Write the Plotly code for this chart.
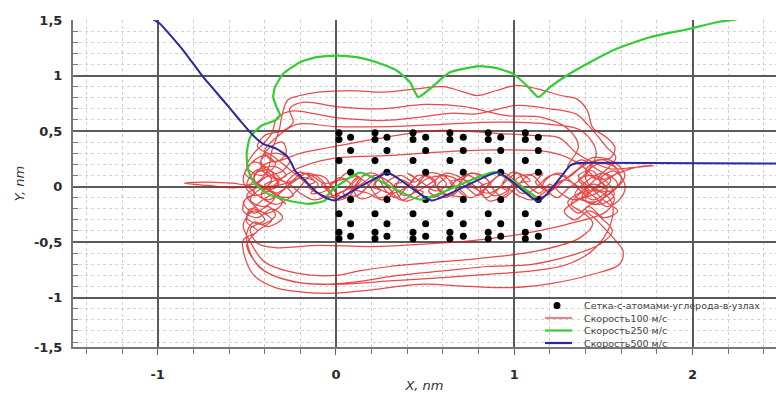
import plotly.graph_objects as go

# ---------------- data ----------------
# carbon lattice (two sub-columns)
lat_ax = [0.017, 0.219, 0.432, 0.639, 0.854, 1.062]
lat_ay = [0.484, 0.423, 0.234, -0.246, -0.412, -0.471]
lat_bx = [0.082, 0.286, 0.503, 0.714, 0.924, 1.135]
lat_by = [0.444, 0.324, 0.129, -0.117, -0.336, -0.448]

# trajectory, 100 m/s
red_x = [
    -0.30, -0.38, -0.46, -0.42, -0.33, -0.36, -0.46, -0.51, -0.44, -0.34,
    -0.40, -0.48, -0.42, -0.30, -0.18, -0.10, -0.14, -0.06, 0.02, 0.08,
    0.04, 0.12, 0.20, 0.26, 0.22, 0.30, 0.38, 0.44, 0.40, 0.48,
    0.56, 0.62, 0.58, 0.66, 0.74, 0.80, 0.86, 0.92, 0.98, 1.04,
    1.12, 1.18, 1.26, 1.32, 1.40, 1.48, 1.44, 1.36, 1.42, 1.54,
    1.60, 1.56, 1.46, 1.40, 1.50, 1.58, 1.50, 1.42, 1.36, 1.30,
    1.38, 1.48, 1.57, 1.52, 1.46, 1.41, 1.35, 1.20, 1.01, 0.79,
    0.64, 0.45, 0.27, 0.00, -0.25, -0.33, -0.36, -0.41, -0.46, -0.50,
    -0.42, -0.34, -0.40, -0.48, -0.52, -0.46, -0.36, -0.30, -0.38, -0.48,
    -0.50, -0.44, -0.52, -0.51, -0.46, -0.34, -0.19, 0.00, 0.20, 0.47,
    0.75, 0.99, 1.22, 1.44, 1.59, 1.61, 1.57, 1.52, 1.46, 1.40,
    1.50, 1.58, 1.50, 1.40, 1.34, 1.44, 1.54, 1.62, 1.56, 1.44,
    1.36, 1.28, 1.20, 1.12, 1.16, 1.08, 1.00, 0.94, 0.88, 0.84,
    0.76, 0.70, 0.64, 0.58, 0.54, 0.46, 0.40, 0.34, 0.28, 0.24,
    0.16, 0.10, 0.04, -0.02, -0.06, -0.14, -0.20, -0.26, -0.34, -0.42,
    -0.36, -0.28, -0.34, -0.44, -0.48, -0.58, -0.72, -0.85, -0.72, -0.56,
    -0.44, -0.38, -0.36, -0.32, -0.30, -0.27, -0.20, -0.10, 0.08, 0.27,
    0.45, 0.60, 0.70, 0.79, 0.90, 1.01, 1.13, 1.26, 1.35, 1.41,
    1.44, 1.52, 1.565, 1.54, 1.46, 1.40, 1.48, 1.58, 1.70, 1.78,
    1.66, 1.54, 1.44, 1.35, 1.25, 1.10, 0.90, 0.58, 0.30, -0.03,
    -0.20, -0.30, -0.40, -0.46, -0.38, -0.30, -0.22, -0.03, 0.30, 0.58,
    0.90, 1.20, 1.35, 1.44, 1.52, 1.46, 1.38, 1.44, 1.56, 1.52,
    1.44, 1.37, 1.22, 1.03, 0.75, 0.47, 0.20, -0.10, -0.34, -0.44,
    -0.48, -0.40, -0.46, -0.52, -0.48, -0.40, -0.22, 0.00, 0.13, 0.30,
    0.50, 0.85, 1.13, 1.37, 1.44, 1.39, 1.32, 1.40, 1.50, 1.55,
    1.54, 1.45, 1.30, 1.10, 0.85, 0.60, 0.30, 0.00, -0.22, -0.38,
    -0.47, -0.50, -0.44, -0.36, -0.44, -0.50, -0.42, -0.34, -0.24, -0.16,
    -0.08, -0.02, 0.06, 0.12, 0.18, 0.24, 0.32, 0.36, 0.42, 0.50,
    0.60, 0.68, 0.74, 0.82, 0.88, 0.96, 1.02, 1.10, 1.16, 1.24,
    1.30, 1.38, 1.46, 1.38, 1.20, 0.90, 0.60, 0.30, 0.00, -0.22,
    -0.32, -0.40, -0.34, -0.28, -0.30, -0.38, -0.42, -0.36, -0.26,
    -0.20, -0.12, -0.04, -0.08, 0.00, 0.06, 0.14, 0.10, 0.18, 0.26,
    0.32, 0.28, 0.36, 0.44, 0.50, 0.56, 0.52, 0.60, 0.68, 0.64,
    0.72, 0.78, 0.84, 0.90, 0.96, 1.02, 1.06, 1.14, 1.20, 1.26,
    1.34, 1.42, 1.36, 1.44, 1.52, 1.56, 1.48, 1.40, 1.46, 1.58,
    1.50, 1.40, 1.32, 1.24, 1.18, 1.10, 1.06, 1.00, 0.94, 0.88,
    0.82, 0.76, 0.70, 0.66, 0.60, 0.52, 0.46, 0.42, 0.36, 0.30,
    0.24, 0.18, 0.12, 0.08, 0.00, -0.04, -0.10, -0.18, -0.24, -0.30,
    -0.38, -0.46, -0.40, -0.30, -0.26, -0.34, -0.42, -0.40, -0.32, -0.40,
    -0.50, -0.52, -0.44, -0.36, -0.30, -0.38, -0.46, -0.50, -0.48, -0.42,
    -0.28, -0.10, 0.10, 0.35, 0.60, 0.85, 1.10, 1.32, 1.48, 1.55,
    1.50, 1.42, 1.34, 1.28, 1.36, 1.46, 1.54, 1.46, 1.38, 1.30,
    1.36, 1.30, 1.16, 0.95, 0.72, 0.50, 0.25, 0.00, -0.18, -0.26,
    -0.24, -0.30, -0.40, -0.44, -0.36, -0.28, -0.16, -0.06, 0.04, 0.14,
    0.22, 0.30, 0.38, 0.46, 0.54, 0.62, 0.70, 0.78, 0.86, 0.94,
    1.02, 1.10, 1.18, 1.28, 1.36, 1.44, 1.52, 1.60, 1.62,
    1.56, 1.48, 1.52, 1.44, 1.36, 1.30, 1.22, 1.16, 1.20, 1.12,
    1.03, 1.09, 0.99, 0.93, 0.97, 0.86, 0.81, 0.86, 0.75, 0.69,
    0.73, 0.62, 0.57, 0.62, 0.51, 0.45, 0.49, 0.38, 0.33, 0.37,
    0.27, 0.21, 0.25, 0.14, 0.09, 0.13, 0.03, -0.03, 0.01, -0.09,
    -0.16, -0.12, -0.20, -0.28, -0.24, -0.32, -0.40, -0.36, -0.44, -0.50,
    -0.46, -0.52, -0.46, -0.38, -0.34, -0.42, -0.50, -0.44, -0.36, -0.28,
]
red_y = [
    0.05, 0.15, 0.10, -0.02, 0.00, 0.13, 0.22, 0.12, 0.03, -0.08,
    -0.18, -0.12, -0.02, 0.02, 0.08, 0.02, -0.06, -0.04, 0.08, 0.02,
    -0.06, -0.08, 0.04, 0.10, 0.02, -0.06, -0.02, 0.08, 0.12, 0.04,
    -0.04, 0.02, 0.10, 0.08, -0.02, -0.08, 0.02, 0.10, 0.04, -0.06,
    -0.02, 0.08, 0.12, 0.04, -0.06, 0.02, 0.14, 0.10, 0.00, -0.04,
    0.06, 0.18, 0.20, 0.08, -0.12, -0.22, -0.28, -0.18, -0.24, -0.14,
    -0.04, 0.10, 0.26, 0.35, 0.47, 0.56, 0.65, 0.70, 0.73, 0.655,
    0.66, 0.62, 0.595, 0.62, 0.68, 0.62, 0.48, 0.38, 0.30, 0.18,
    0.10, 0.20, 0.28, 0.20, 0.05, -0.08, -0.04, -0.14, -0.24, -0.20,
    -0.32, -0.40, -0.48, -0.64, -0.80, -0.91, -0.95, -0.96, -0.93, -0.88,
    -0.90, -0.91, -0.87, -0.79, -0.70, -0.58, -0.49, -0.40, -0.30, -0.20,
    -0.10, 0.02, 0.12, 0.04, -0.08, -0.14, -0.06, 0.10, 0.22, 0.26,
    0.16, 0.06, -0.04, 0.04, 0.12, 0.10, -0.02, -0.10, -0.02, 0.08,
    0.12, 0.04, -0.08, -0.04, 0.06, 0.10, 0.00, -0.10, -0.04, 0.06,
    0.10, 0.00, -0.10, -0.02, 0.08, 0.10, 0.00, -0.10, -0.16, -0.08,
    0.04, 0.10, 0.18, 0.14, 0.02, 0.03, 0.04, 0.03, 0.01, -0.01,
    0.04, 0.16, 0.32, 0.50, 0.66, 0.78, 0.82, 0.85, 0.865, 0.85,
    0.88, 0.90, 0.86, 0.82, 0.865, 0.91, 0.88, 0.82, 0.79, 0.685,
    0.53, 0.44, 0.35, 0.26, 0.23, 0.14, 0.06, 0.12, 0.18, 0.19,
    0.17, 0.16, 0.22, 0.30, 0.44, 0.46, 0.48, 0.505, 0.45, 0.354,
    0.30, 0.24, 0.20, 0.06, -0.02, 0.08, 0.16, 0.25, 0.28, 0.31,
    0.33, 0.31, 0.22, 0.10, -0.02, -0.16, -0.10, 0.02, -0.10, -0.22,
    -0.28, -0.31, -0.37, -0.43, -0.49, -0.52, -0.54, -0.53, -0.55, -0.51,
    -0.38, -0.30, -0.22, -0.34, -0.50, -0.68, -0.78, -0.80, -0.76, -0.72,
    -0.69, -0.64, -0.58, -0.46, -0.33, -0.24, -0.16, -0.04, -0.06, -0.16,
    -0.34, -0.56, -0.70, -0.76, -0.79, -0.82, -0.85, -0.88, -0.86, -0.78,
    -0.64, -0.52, -0.40, -0.30, -0.20, -0.08, 0.00, -0.06, 0.04, 0.12,
    0.06, -0.08, -0.02, 0.08, 0.02, -0.10, -0.04, 0.06, 0.02, -0.10,
    -0.06, 0.06, 0.10, 0.02, -0.08, -0.04, 0.08, 0.10, 0.00, -0.10,
    -0.02, 0.08, 0.30, 0.50, 0.56, 0.58, 0.56, 0.54, 0.54, 0.56,
    0.46, 0.32, 0.22, 0.30, 0.40, 0.34, 0.22, 0.10, 0.02,
    -0.06, -0.12, -0.06, 0.02, 0.04, 0.12, 0.06, -0.02, -0.06, -0.12,
    -0.06, 0.02, 0.10, 0.04, 0.10, 0.04, -0.04, -0.10, -0.04, 0.04,
    0.06, 0.00, -0.10, -0.04, 0.06, 0.12, 0.04, -0.06, 0.02, -0.06,
    -0.12, -0.04, 0.06, 0.10, 0.04, -0.08, -0.16, -0.12, 0.00, 0.14,
    0.24, 0.20, 0.10, 0.02, -0.08, -0.10, -0.02, 0.06, 0.12, 0.06,
    -0.04, -0.10, -0.06, 0.02, 0.10, 0.12, 0.02, -0.08, -0.12, -0.02,
    0.10, 0.12, 0.04, -0.08, -0.12, -0.02, 0.06, 0.12, 0.06, -0.04,
    -0.12, -0.04, 0.08, 0.14, 0.24, 0.30, 0.24, 0.12, 0.04, -0.06,
    -0.10, -0.22, -0.28, -0.20, -0.28, -0.36, -0.32, -0.42, -0.60, -0.74,
    -0.84, -0.88, -0.86, -0.80, -0.76, -0.72, -0.70, -0.62, -0.52, -0.40,
    -0.30, -0.22, -0.30, -0.22, -0.12, -0.06, 0.06, 0.16, 0.24, 0.18,
    0.36, 0.52, 0.62, 0.64, 0.72, 0.74, 0.70, 0.72, 0.76, 0.70,
    0.58, 0.50, 0.46, 0.36, 0.28, 0.18, 0.02, -0.10, -0.04, 0.02,
    0.10, 0.04, -0.08, -0.04, 0.04, 0.12, 0.08, -0.02, -0.06, 0.00,
    -0.08, -0.12, -0.04, 0.06, 0.00, -0.08, -0.18, -0.10, 0.02,
    0.14, 0.06, -0.03, -0.12, -0.02, 0.07, 0.11, 0.01, -0.06, -0.09,
    0.03, 0.05, 0.13, -0.01, -0.04, -0.13, 0.00, 0.04, 0.12, -0.01,
    -0.08, -0.07, 0.01, 0.09, 0.07, -0.02, -0.05, -0.13, 0.02, 0.04,
    0.13, -0.01, -0.03, -0.11, 0.01, 0.09, 0.06, 0.03, -0.09, -0.07,
    0.01, 0.04, 0.13, 0.02, -0.08, -0.09, 0.01, 0.06, 0.15, 0.02,
    -0.06, -0.14, -0.24, -0.18, -0.26, -0.34, -0.28, -0.16, -0.08, -0.16,
]

# trajectory, 250 m/s
green_x = [2.247, 2.135, 1.985, 1.761, 1.574, 1.425, 1.294, 1.200, 1.135, 1.070,
           0.994, 0.901, 0.808, 0.714, 0.639, 0.602, 0.527, 0.462, 0.415, 0.340,
           0.228, 0.116, 0.004, -0.108, -0.202, -0.296, -0.342, -0.352, -0.333, -0.314,
           -0.342, -0.417, -0.482, -0.501, -0.492, -0.454, -0.380, -0.268, -0.155, -0.062,
           -0.034, 0.135, 0.471, 0.892, 1.126]
green_y = [1.505, 1.480, 1.421, 1.345, 1.241, 1.120, 1.000, 0.895, 0.805, 0.910,
           1.015, 1.066, 1.084, 1.060, 1.030, 0.985, 0.880, 0.805, 0.940, 1.045,
           1.120, 1.165, 1.180, 1.165, 1.120, 1.015, 0.895, 0.805, 0.714, 0.640,
           0.595, 0.550, 0.444, 0.295, 0.144, 0.024, -0.066, -0.126, -0.156, -0.126,
           -0.051, 0.126, -0.117, 0.129, -0.099]

# trajectory, 500 m/s
blue_x = [-1.05, -0.987, -0.856, -0.744, -0.632, -0.538, -0.464, -0.408, -0.333, -0.277,
          -0.248, -0.230, -0.174, -0.108, -0.043, -0.006, 0.292, 0.538, 0.909, 1.133,
          1.200, 1.275, 1.312, 1.350, 1.425, 2.55]
blue_y = [1.53, 1.466, 1.225, 0.985, 0.775, 0.595, 0.459, 0.385, 0.340, 0.279,
          0.205, 0.144, 0.054, -0.051, -0.111, -0.126, 0.122, -0.126, 0.129, -0.135,
          -0.036, 0.114, 0.189, 0.210, 0.214, 0.207]

x_ticks = [-1, 0, 1, 2]
y_tickvals = [-1.445, -1, -0.5, 0, 0.5, 1, 1.5]
y_ticktext = ["-1,5", "-1", "-0,5", "0", "0,5", "1", "1,5"]

legend_names = ["Сетка-с-атомами-углерода-в-узлах", "Скорость100 м/с",
                "Скорость250 м/с", "Скорость500 м/с"]

# ---------------- figure ----------------
W, H = 776, 400
ML, MR, MT, MB = 73, 0, 20, 53
PW, PH = W - ML - MR, H - MT - MB

RED = "rgba(225,22,22,0.78)"
GREEN = "#33cc33"
BLUE = "#2a2a9c"

fig = go.Figure()

lat_x = [x for x in lat_ax for _ in lat_ay] + [x for x in lat_bx for _ in lat_by]
lat_y = [y for _ in lat_ax for y in lat_ay] + [y for _ in lat_bx for y in lat_by]

fig.add_trace(go.Scatter(x=red_x, y=red_y, mode="lines", name=legend_names[1],
                         line=dict(color=RED, width=1.25, shape="spline", smoothing=1.0),
                         showlegend=False))
fig.add_trace(go.Scatter(x=lat_x, y=lat_y, mode="markers", name=legend_names[0],
                         marker=dict(color="black", size=7), showlegend=False))
fig.add_trace(go.Scatter(x=green_x, y=green_y, mode="lines", name=legend_names[2],
                         line=dict(color=GREEN, width=2.2, shape="spline", smoothing=0.5),
                         showlegend=False))
fig.add_trace(go.Scatter(x=blue_x, y=blue_y, mode="lines", name=legend_names[3],
                         line=dict(color=BLUE, width=2, shape="spline", smoothing=0.4),
                         showlegend=False))

FONT = "DejaVu Sans, Verdana, sans-serif"
TICKFONT = dict(family=FONT, size=13, color="#2a2a2a", weight="bold")

fig.update_layout(
    width=W, height=H,
    margin=dict(l=ML, r=MR, t=MT, b=MB),
    paper_bgcolor="white", plot_bgcolor="white",
    separators=", ",
    font=dict(family=FONT, color="#333", size=12),
    xaxis=dict(
        range=[-1.475, 2.468], tickvals=x_ticks, ticktext=["-1", "0", "1", "2"],
        showgrid=True, gridcolor="#5a5a5a", gridwidth=2, zeroline=False,
        showline=True, linecolor="#777", linewidth=2,
        ticks="outside", ticklen=6, tickcolor="#666",
        ticklabelstandoff=8, automargin=False,
        tickfont=TICKFONT,
        minor=dict(dtick=0.2, tick0=0, showgrid=True, gridcolor="#cfcfcf",
                   griddash="dot", gridwidth=1, ticks="outside", ticklen=5, tickcolor="#777"),
        title=dict(text="X, nm", font=dict(size=13, style="italic", color="#333"), standoff=0),
    ),
    yaxis=dict(
        range=[-1.445, 1.5], tickvals=y_tickvals, ticktext=y_ticktext,
        showgrid=True, gridcolor="#5a5a5a", gridwidth=2, zeroline=False,
        showline=True, linecolor="#777", linewidth=2,
        ticks="inside", ticklen=6, tickcolor="#666",
        ticklabelstandoff=6, automargin=False,
        tickfont=TICKFONT,
        minor=dict(dtick=0.1, tick0=0, showgrid=True, gridcolor="#d4d4d4",
                   griddash="dot", gridwidth=1, ticks="inside", ticklen=5, tickcolor="#777"),
        title=dict(text="Y, nm", font=dict(size=13, style="italic", color="#333"), standoff=6),
    ),
)

# ---------------- hand-drawn legend (compact, like the original) ----------------
def px(xp):
    return (xp - ML) / PW


def py(yp):
    return (H - MB - yp) / PH


rows = [305.5, 318.0, 330.5, 343.0]
sym_colors = ["black", "#d98a8a", GREEN, BLUE]
for i, (name, yc) in enumerate(zip(legend_names, rows)):
    if i == 0:
        fig.add_shape(type="circle", xref="paper", yref="paper",
                      x0=px(553.5), x1=px(560.5), y0=py(yc + 3.5), y1=py(yc - 3.5),
                      fillcolor="black", line=dict(width=0))
    else:
        fig.add_shape(type="line", xref="paper", yref="paper",
                      x0=px(545), x1=px(572), y0=py(yc), y1=py(yc),
                      line=dict(color=sym_colors[i], width=2.2))
    fig.add_annotation(xref="paper", yref="paper", x=px(582), y=py(yc),
                       xanchor="left", yanchor="middle", showarrow=False,
                       text=name, font=dict(family=FONT, size=9.5, color="#444"))

fig.write_html("out.html", config={"displayModeBar": False},
               post_script="document.body.style.margin='0';document.body.style.overflow='hidden';")
